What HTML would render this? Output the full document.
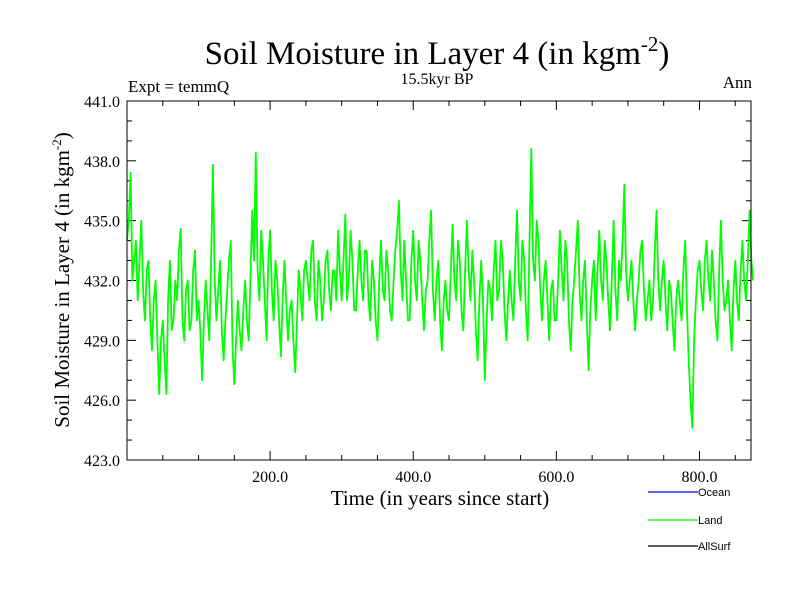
<!DOCTYPE html>
<html><head><meta charset="utf-8"><style>
body{margin:0;background:#fff}
svg text{font-family:"Liberation Serif",serif;fill:#000}
</style></head><body>
<svg id="chart" width="800" height="600" xmlns="http://www.w3.org/2000/svg">
<rect width="800" height="600" fill="#fff"/>
<text x="437" y="64" font-size="33" text-anchor="middle">Soil Moisture in Layer 4 (in kgm<tspan font-size="21" dy="-13">-2</tspan><tspan dy="13">)</tspan></text>
<text x="128" y="92" font-size="17">Expt = temmQ</text>
<text x="437" y="84" font-size="16" text-anchor="middle">15.5kyr BP</text>
<text x="752" y="88" font-size="17" text-anchor="end">Ann</text>
<text x="440" y="505" font-size="21" text-anchor="middle">Time (in years since start)</text>
<text transform="translate(69,280) rotate(-90)" font-size="21" text-anchor="middle">Soil Moisture in Layer 4 (in kgm<tspan font-size="13" dy="-8">-2</tspan><tspan dy="8">)</tspan></text>
<g id="ticks"></g>
<g id="series"></g>
<rect x="127" y="101" width="624" height="359" fill="none" stroke="#000" stroke-width="1"/>
<g>
<line x1="648" y1="492" x2="698" y2="492" stroke="#0000ff" stroke-width="1.2"/>
<text x="698" y="496" font-size="11" style="font-family:'Liberation Sans',sans-serif">Ocean</text>
<line x1="648" y1="520" x2="698" y2="520" stroke="#00ff00" stroke-width="1.2"/>
<text x="698" y="524" font-size="11" style="font-family:'Liberation Sans',sans-serif">Land</text>
<line x1="648" y1="546" x2="698" y2="546" stroke="#000" stroke-width="1.2"/>
<text x="698" y="550" font-size="11" style="font-family:'Liberation Sans',sans-serif">AllSurf</text>
</g>
</svg>
<script>
const landValues=[
434,435,437.4,432,433,434,431,433,435,431.5,430,432.5,433,430,428.5,431,432,429,426.3,429,
430,428,426.3,431,433,429.5,430,432,431,433.5,434.6,430,429,431.5,432,429.5,430,432.5,433.5,430,
431,429.5,427,430,432,430.5,429,433,437.8,432,430,431.5,433,429.5,428,430,431.5,433,434,428.5,
426.8,429,431,429.5,428.5,430.5,432,430,429,432,435.5,433,438.4,432.5,431,434.5,433,431,429,433,
434.5,431.5,430,433,432,430,428.2,431,433,431,429,430.5,431,429,427.4,430,432.5,431.5,430,432.5,
433,432,431,433.5,434,431,430,433,432,430,431,433,433.5,431.5,430.5,432.5,432.5,431,434.5,432.5,
431,433,435.3,431,432,434.5,433,430.5,430.5,432.5,434,432,431,433.5,433.5,431,430,433,432,430,
429,432,434,431.5,431,433.5,432.5,430.5,430,432,433.5,434.5,436,432.5,431,434,432,430,430,433,
434.5,432,431,434,433,431,429.5,431.5,432,434,435.5,431.5,430,432,433,430,428.5,431,432,430.5,
430,432.5,434.8,432,431,434,433,430.5,429.5,432.5,435,432.5,431,433.5,432,429.5,428,431,433,431,
427,430,432,431.5,430,432.5,434,431,431.5,434,433,430.5,429,431,432.5,431,430,433,435.5,432,
431,434,433,430.5,429,434,438.6,433,432,435,434,431.5,430,432,433,431,429,431.5,432,430,
430,432,434.5,432.5,431,434,433,430,428.5,431,432,433.5,435,431.5,430,432,433,430,427.5,430.5,
432,433,430,432.5,434.5,432,431,434,433,431,429.5,432,435,431.5,430,433,432,434,436.8,432.5,
431,432,433,431,429.5,431,432,433.5,434,431.5,430,431,432,430,431,433.5,435.5,432,430.5,432,
433,431,429.5,432,431.5,430,428.5,431,432,431,430,432.5,434,430.5,428,426,424.6,429,431,432.5,
433,431.5,430.5,433,434,432,431,433.5,432,430,429,432.5,435,432,430.5,431,432,430,428.5,431.5,
433,431,430,432.5,434,432,431,433,435.5,433,432];
const yearStep=2.5;
const xTickValues=[200,400,600,800];
const xTickLabels=["200.0","400.0","600.0","800.0"];
const yTickValues=[423,426,429,432,435,438,441];
const yTickLabels=["423.0","426.0","429.0","432.0","435.0","438.0","441.0"];
const X0=127,X1=751,Y0=101,Y1=460,XMAX=872,YMIN=423,YMAX=441;
const xs=v=>X0+(v/XMAX)*(X1-X0);
const ys=v=>Y1-(v-YMIN)/(YMAX-YMIN)*(Y1-Y0);
const NS="http://www.w3.org/2000/svg";
const tg=document.getElementById('ticks');
function mk(tag,attrs,parent){const e=document.createElementNS(NS,tag);for(const k in attrs)e.setAttribute(k,attrs[k]);parent.appendChild(e);return e;}
for(let v=50;v<XMAX;v+=50){
  const major=v%200===0;const L=major?9:5;
  const a=mk('line',{x1:xs(v),x2:xs(v),y1:Y1,y2:Y1-L,stroke:'#000'},tg);
  
  
  const b=mk('line',{x1:xs(v),x2:xs(v),y1:Y0,y2:Y0+L,stroke:'#000'},tg);
  
  
}
xTickValues.forEach((v,i)=>{
  const t=mk('text',{x:xs(v),y:Y1+22,'font-size':16,'text-anchor':'middle'},tg);
  t.textContent=xTickLabels[i];
  
  
});
for(let v=YMIN+1;v<YMAX;v+=1){
  const major=(v-YMIN)%3===0;const L=major?9:5;
  const a=mk('line',{x1:X0,x2:X0+L,y1:ys(v),y2:ys(v),stroke:'#000'},tg);
  
  
  const b=mk('line',{x1:X1,x2:X1-L,y1:ys(v),y2:ys(v),stroke:'#000'},tg);
  
  
}
yTickValues.forEach((v,i)=>{
  const t=mk('text',{x:X0-7,y:ys(v)+6,'font-size':16,'text-anchor':'end'},tg);
  t.textContent=yTickLabels[i];
  
  
});
const pts=landValues.map((v,i)=>xs(i*yearStep).toFixed(1)+','+ys(v).toFixed(1)).join(' ');
const pl=mk('polyline',{points:pts,fill:'none',stroke:'#00ff00','stroke-width':1.8,'stroke-linejoin':'round'},document.getElementById('series'));


</script>
</body></html>
